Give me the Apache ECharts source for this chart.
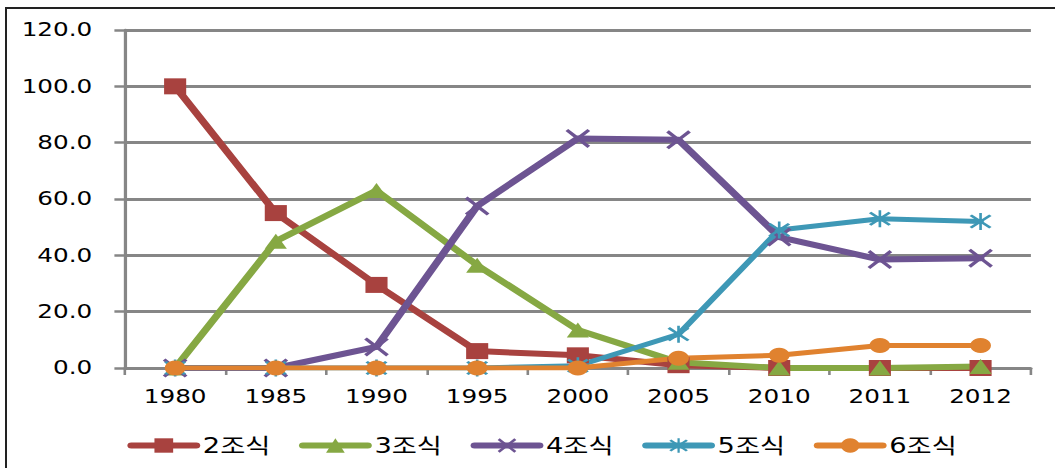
<!DOCTYPE html>
<html>
<head>
<meta charset="utf-8">
<script src="https://cdn.jsdelivr.net/npm/echarts@6/dist/echarts.min.js"></script>
<style>
  html, body { margin: 0; padding: 0; background: #fff; overflow: hidden; }
  #frame { position: absolute; left: 5px; top: 7px; width: 2000px; height: 1000px; border-left: 2px solid #222; border-top: 2px solid #222; }
  #chart { position: absolute; left: 0; top: 0; width: 812px; height: 468px; transform: scaleX(1.3); transform-origin: 0 0; }
</style>
</head>
<body>
<div id="frame"></div>
<div id="chart"></div>
<script>
const categories = ['1980', '1985', '1990', '1995', '2000', '2005', '2010', '2011', '2012'];
const seriesNames = ['2조식', '3조식', '4조식', '5조식', '6조식'];
const s2 = [100, 55, 29.5, 6, 4.5, 1, 0, 0, 0];
const s3 = [0, 45, 63, 36.5, 13.5, 2, 0, 0, 0.5];
const s4 = [0, 0, 7.5, 57.5, 81.5, 81, 46.5, 38.5, 39];
const s5 = [0, 0, 0, 0, 0.8, 12, 49, 53, 52];
const s6 = [0, 0, 0, 0, 0, 3.5, 4.5, 8, 8];
const yTicks = { min: 0, max: 120, interval: 20 };

const colors = ['#A8423F', '#86A843', '#6D5492', '#3E98B6', '#E0822F'];
const xPath = 'path://M0,1.1 L1.1,0 L5,3.9 L8.9,0 L10,1.1 L6.1,5 L10,8.9 L8.9,10 L5,6.1 L1.1,10 L0,8.9 L3.9,5 Z';
const starPath = 'path://M0,1.1 L1.1,0 L5,3.9 L8.9,0 L10,1.1 L6.1,5 L10,8.9 L8.9,10 L5,6.1 L1.1,10 L0,8.9 L3.9,5 Z M4.4,-1 L5.6,-1 L5.6,11 L4.4,11 Z';
const symbols = ['rect', 'triangle', xPath, starPath, 'circle'];
const symbolSizes = [[17, 16], [17, 15], [19, 19], [17, 17], [16, 15]];
const lineWidths = [6, 6, 6, 5, 5];
const dataSets = [s2, s3, s4, s5, s6];

const chart = echarts.init(document.getElementById('chart'), null, { renderer: 'svg' });
const font = "'DejaVu Sans', 'Noto Sans CJK KR', sans-serif";

chart.setOption({
  animation: false,
  color: colors,
  grid: { left: 96, right: 19, top: 30, bottom: 100 },
  legend: {
    left: 93,
    top: 430,
    itemWidth: 50,
    itemHeight: 18,
    itemGap: 22,
    lineStyle: { width: 6, cap: 'round' },
    textStyle: { fontFamily: font, fontSize: 21, color: '#000' },
    data: seriesNames
  },
  xAxis: {
    type: 'category',
    data: categories,
    boundaryGap: true,
    axisLine: { lineStyle: { color: '#868686', width: 2.5 } },
    axisTick: { show: true, alignWithLabel: false, length: 7, lineStyle: { color: '#868686', width: 2 } },
    axisLabel: { color: '#000', fontFamily: font, fontSize: 19, margin: 19 },
    splitLine: { show: false }
  },
  yAxis: {
    type: 'value',
    min: yTicks.min,
    max: yTicks.max,
    interval: yTicks.interval,
    axisLine: { show: true, lineStyle: { color: '#868686', width: 2.5 } },
    axisTick: { show: true, length: 8, lineStyle: { color: '#868686', width: 2.5 } },
    axisLabel: { color: '#000', fontFamily: font, fontSize: 19, margin: 25, formatter: v => v.toFixed(1) },
    splitLine: { show: true, lineStyle: { color: '#868686', width: 3 } }
  },
  series: seriesNames.map((name, i) => ({
    name: name,
    type: 'line',
    data: dataSets[i],
    symbol: symbols[i],
    symbolSize: symbolSizes[i],
    showAllSymbol: true,
    lineStyle: { width: lineWidths[i], color: colors[i], cap: 'round', join: 'round' },
    itemStyle: { color: colors[i] },
    emphasis: { disabled: true }
  }))
});
</script>
</body>
</html>
